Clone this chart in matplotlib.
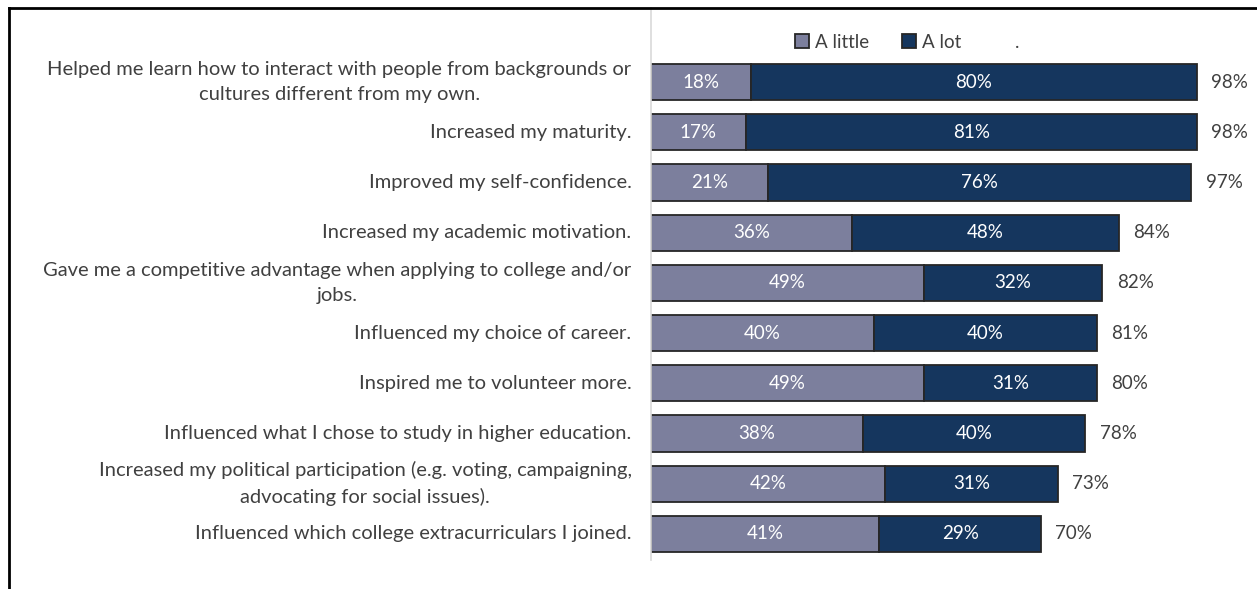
import numpy as np
import matplotlib.pyplot as plt
from matplotlib.patches import Patch

# data
categories = [
    "Helped me learn how to interact with people from backgrounds or\ncultures different from my own.",
    "Increased my maturity.",
    "Improved my self-confidence.",
    "Increased my academic motivation.",
    "Gave me a competitive advantage when applying to college and/or\njobs.",
    "Influenced my choice of career.",
    "Inspired me to volunteer more.",
    "Influenced what I chose to study in higher education.",
    "Increased my political participation (e.g. voting, campaigning,\nadvocating for social issues).",
    "Influenced which college extracurriculars I joined.",
]
a_little = [18, 17, 21, 36, 49, 40, 49, 38, 42, 41]
a_lot = [80, 81, 76, 48, 32, 40, 31, 40, 31, 29]
totals = [98, 98, 97, 84, 82, 81, 80, 78, 73, 70]

c_little = "#7c7f9d"
c_lot = "#15365e"
txt = "#404040"

plt.rcParams['font.family'] = ['Lato', 'DejaVu Sans']

fig = plt.figure(figsize=(12.57, 5.89), dpi=100)
W, H = 1257, 589
ax = fig.add_axes([651 / W, 1 - 560 / H, 1 - 651 / W, (560 - 8) / H])

y = np.arange(len(categories))
ax.barh(y, a_little, height=0.72, color=c_little, edgecolor="#262626", linewidth=1.3)
ax.barh(y, a_lot, left=a_little, height=0.72, color=c_lot, edgecolor="#262626", linewidth=1.3)

for i in range(len(categories)):
    ax.text(a_little[i] / 2, y[i], f"{a_little[i]}%", ha="center", va="center",
            color="white", fontsize=13.5)
    ax.text(a_little[i] + a_lot[i] / 2, y[i], f"{a_lot[i]}%", ha="center", va="center",
            color="white", fontsize=13.5)
    ax.text(a_little[i] + a_lot[i] + 2.6, y[i], f"{totals[i]}%", ha="left", va="center",
            color=txt, fontsize=13.5)

ax.set_xlim(0, (W - 651) / 5.57)
ax.set_ylim(9.518, -1.474)
ax.set_yticks(y)
ax.set_yticklabels(categories, fontsize=14.5, color=txt, multialignment="center",
                   linespacing=1.6, va="center")
ax.tick_params(axis="y", length=0, pad=14)
ax.set_xticks([])
for s in ["top", "right", "bottom"]:
    ax.spines[s].set_visible(False)
ax.spines["left"].set_color("#d9d9d9")
ax.spines["left"].set_linewidth(1.2)

handles = [Patch(facecolor=c_little, edgecolor="#262626", linewidth=1.3),
           Patch(facecolor=c_lot, edgecolor="#262626", linewidth=1.3),
           Patch(facecolor="none", edgecolor="none")]
fig.legend(handles, ["A little", "A lot", "."], loc="center", ncol=3,
           bbox_to_anchor=(907 / W, 1 - 42 / H), frameon=False, fontsize=13.5,
           handlelength=0.75, handleheight=0.75, handletextpad=0.3,
           columnspacing=1.8, labelcolor=txt)

# outer border (top and left)
fig.add_artist(plt.Line2D([9 / W, 1], [1 - 8 / H, 1 - 8 / H], color="black", lw=2,
                          transform=fig.transFigure))
fig.add_artist(plt.Line2D([9 / W, 9 / W], [0, 1 - 8 / H], color="black", lw=2,
                          transform=fig.transFigure))

fig.savefig("out.png", dpi=100)
